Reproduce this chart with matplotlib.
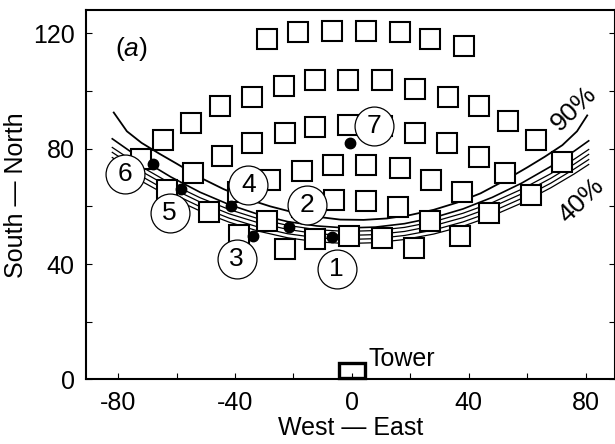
import matplotlib
matplotlib.use("Agg")
import matplotlib.pyplot as plt
import matplotlib.patches as patches

plt.rcParams["font.family"] = ["Liberation Sans", "DejaVu Sans"]
plt.rcParams["axes.unicode_minus"] = False
plt.rcParams["mathtext.fontset"] = "custom"
plt.rcParams["mathtext.it"] = "Liberation Sans:italic"

# sampler squares, row by row (m from tower)
sampler_x = [-29.1, -18.3, -6.9, 4.8, 16.5, 26.8, 38.5,
             -72.1, -64.5, -55.1, -45.1, -34.2, -23.4, -12.6, -1.2, 10.2, 21.6, 33.0, 43.3, 53.5, 63.0, 71.8,
             -63.3, -54.4, -44.5, -34.2, -22.9, -12.6, -1.2, 10.3, 21.6, 32.5, 43.3, 52.4, 61.2,
             -48.8, -38.9, -28.0, -17.1, -6.5, 4.9, 16.3, 27.0, 37.6, 47.0,
             -28.9, -17.0, -6.3, 4.9, 15.9, 26.8,
             -38.8, -22.9, -12.6, -0.9, 10.2, 21.3, 36.8]
sampler_y = [117.9, 120.3, 120.9, 120.9, 120.3, 117.9, 115.7,
             76.5, 82.9, 88.8, 94.6, 98.0, 101.6, 103.8, 103.8, 103.8, 100.6, 98.0, 94.6, 89.6, 83.0, 75.5,
             65.5, 71.7, 77.3, 81.9, 85.4, 87.6, 88.2, 87.9, 85.5, 81.9, 77.1, 71.5, 64.0,
             58.2, 65.1, 69.0, 72.4, 74.4, 74.4, 73.3, 69.2, 64.8, 57.7,
             54.8, 59.9, 62.3, 61.7, 59.8, 54.8,
             50.2, 45.2, 48.6, 49.8, 49.0, 45.6, 49.8]

# release points 1..7 and their circled labels
release_names = ["1", "2", "3", "4", "5", "6", "7"]
release_x = [-6.7, -21.5, -33.7, -41.4, -58.4, -68.1, -0.6]
release_y = [49.2, 52.8, 49.6, 60.2, 66.0, 74.7, 81.9]
label_x = [-5.2, -15.4, -39.4, -35.4, -62.4, -77.6, 7.4]
label_y = [38.3, 60.6, 41.8, 67.5, 57.7, 71.3, 87.9]

# 90% contour
c90_x = [-81.5, -77, -72, -66, -60, -52, -44, -36, -28, -20, -12, -4,
         4, 12, 20, 28, 36, 44, 52, 60, 66, 72, 77, 80.5]
c90_y = [92.5, 86.0, 82.0, 78.3, 74.8, 70.0, 66.0, 62.6, 60.0, 57.9, 56.4, 55.4,
         55.3, 55.8, 57.0, 58.8, 61.3, 64.5, 68.8, 73.5, 77.2, 81.2, 86.0, 91.5]

# 40% .. 80% contours
band_x = [-82, -72, -62, -52, -42, -32, -22, -12, -2, 8, 18, 28, 38, 48, 58, 68, 76, 81]
c80_y = [83.4, 76.3, 70.2, 64.9, 60.6, 57.2, 54.7, 53.2, 52.5, 52.8, 54.0, 56.1, 59.1, 63.1, 68.0, 73.8, 79.1, 82.7]
c70_y = [80.4, 73.7, 67.9, 63.0, 58.9, 55.7, 53.4, 51.9, 51.3, 51.6, 52.7, 54.7, 57.6, 61.3, 65.9, 71.3, 76.3, 79.7]
c60_y = [78.7, 72.1, 66.4, 61.5, 57.4, 54.3, 52.0, 50.5, 49.9, 50.2, 51.3, 53.3, 56.1, 59.8, 64.3, 69.7, 74.6, 78.0]
c50_y = [76.9, 70.4, 64.7, 59.9, 55.9, 52.8, 50.5, 49.1, 48.5, 48.8, 49.9, 51.8, 54.6, 58.2, 62.7, 68.0, 72.9, 76.2]
c40_y = [75.1, 68.7, 63.1, 58.4, 54.5, 51.4, 49.1, 47.7, 47.1, 47.4, 48.5, 50.4, 53.1, 56.7, 61.1, 66.4, 71.2, 74.5]

fig = plt.figure(figsize=(6.15, 4.44), dpi=100)
ax = fig.add_axes([0.1398, 0.1453, 0.8602, 0.832])

# contour lines
ax.plot(c90_x, c90_y, color="black", lw=1.3, zorder=1)
ax.plot(band_x, c80_y, color="black", lw=1.2, zorder=1)
for ys in (c70_y, c60_y, c50_y, c40_y):
    ax.plot(band_x, ys, color="black", lw=0.9, zorder=1)

# samplers
ax.plot(sampler_x, sampler_y, "s", ls="none", ms=14.5, mfc="white", mec="black", mew=1.5, zorder=3)

# release points
ax.plot(release_x, release_y, "o", ls="none", ms=7.5, color="black", zorder=4)
ax.plot(label_x, label_y, "o", ls="none", ms=28, mfc="white", mec="black", mew=0.9, zorder=5)
for name, lx, ly in zip(release_names, label_x, label_y):
    ax.text(lx, ly, name, fontsize=19, ha="center", va="center", zorder=6)

# contour labels
ax.text(75.8, 94.0, "90%", fontsize=19, rotation=44, ha="center", va="center", rotation_mode="anchor")
ax.text(78.6, 62.0, "40%", fontsize=19, rotation=44, ha="center", va="center", rotation_mode="anchor")

# tower
ax.add_patch(patches.Rectangle((-4.5, 0.4), 9.1, 5.4, fill=False, lw=2.4, ec="black", zorder=6, clip_on=False))
ax.text(5.5, 4.5, "Tower", fontsize=18, ha="left", va="baseline")

ax.text(-81.0, 114.5, r"($\mathit{a}$)", fontsize=19, ha="left", va="center")

ax.set_xlim(-91, 90)
ax.set_ylim(0, 128)
ax.set_xticks(range(-80, 81, 40))
ax.set_xticks(range(-80, 81, 20), minor=True)
ax.set_yticks(range(0, 121, 40))
ax.set_yticks(range(0, 121, 20), minor=True)
ax.tick_params(which="both", direction="in", length=4.5, width=0.8, top=False, right=True)
ax.tick_params(which="major", labelsize=18, pad=8)
for s in ax.spines.values():
    s.set_linewidth(1.5)

ax.set_xlabel("West — East", fontsize=18, labelpad=1)
ax.set_ylabel("South — North", fontsize=18, labelpad=4)

fig.savefig("out.png", dpi=100)
